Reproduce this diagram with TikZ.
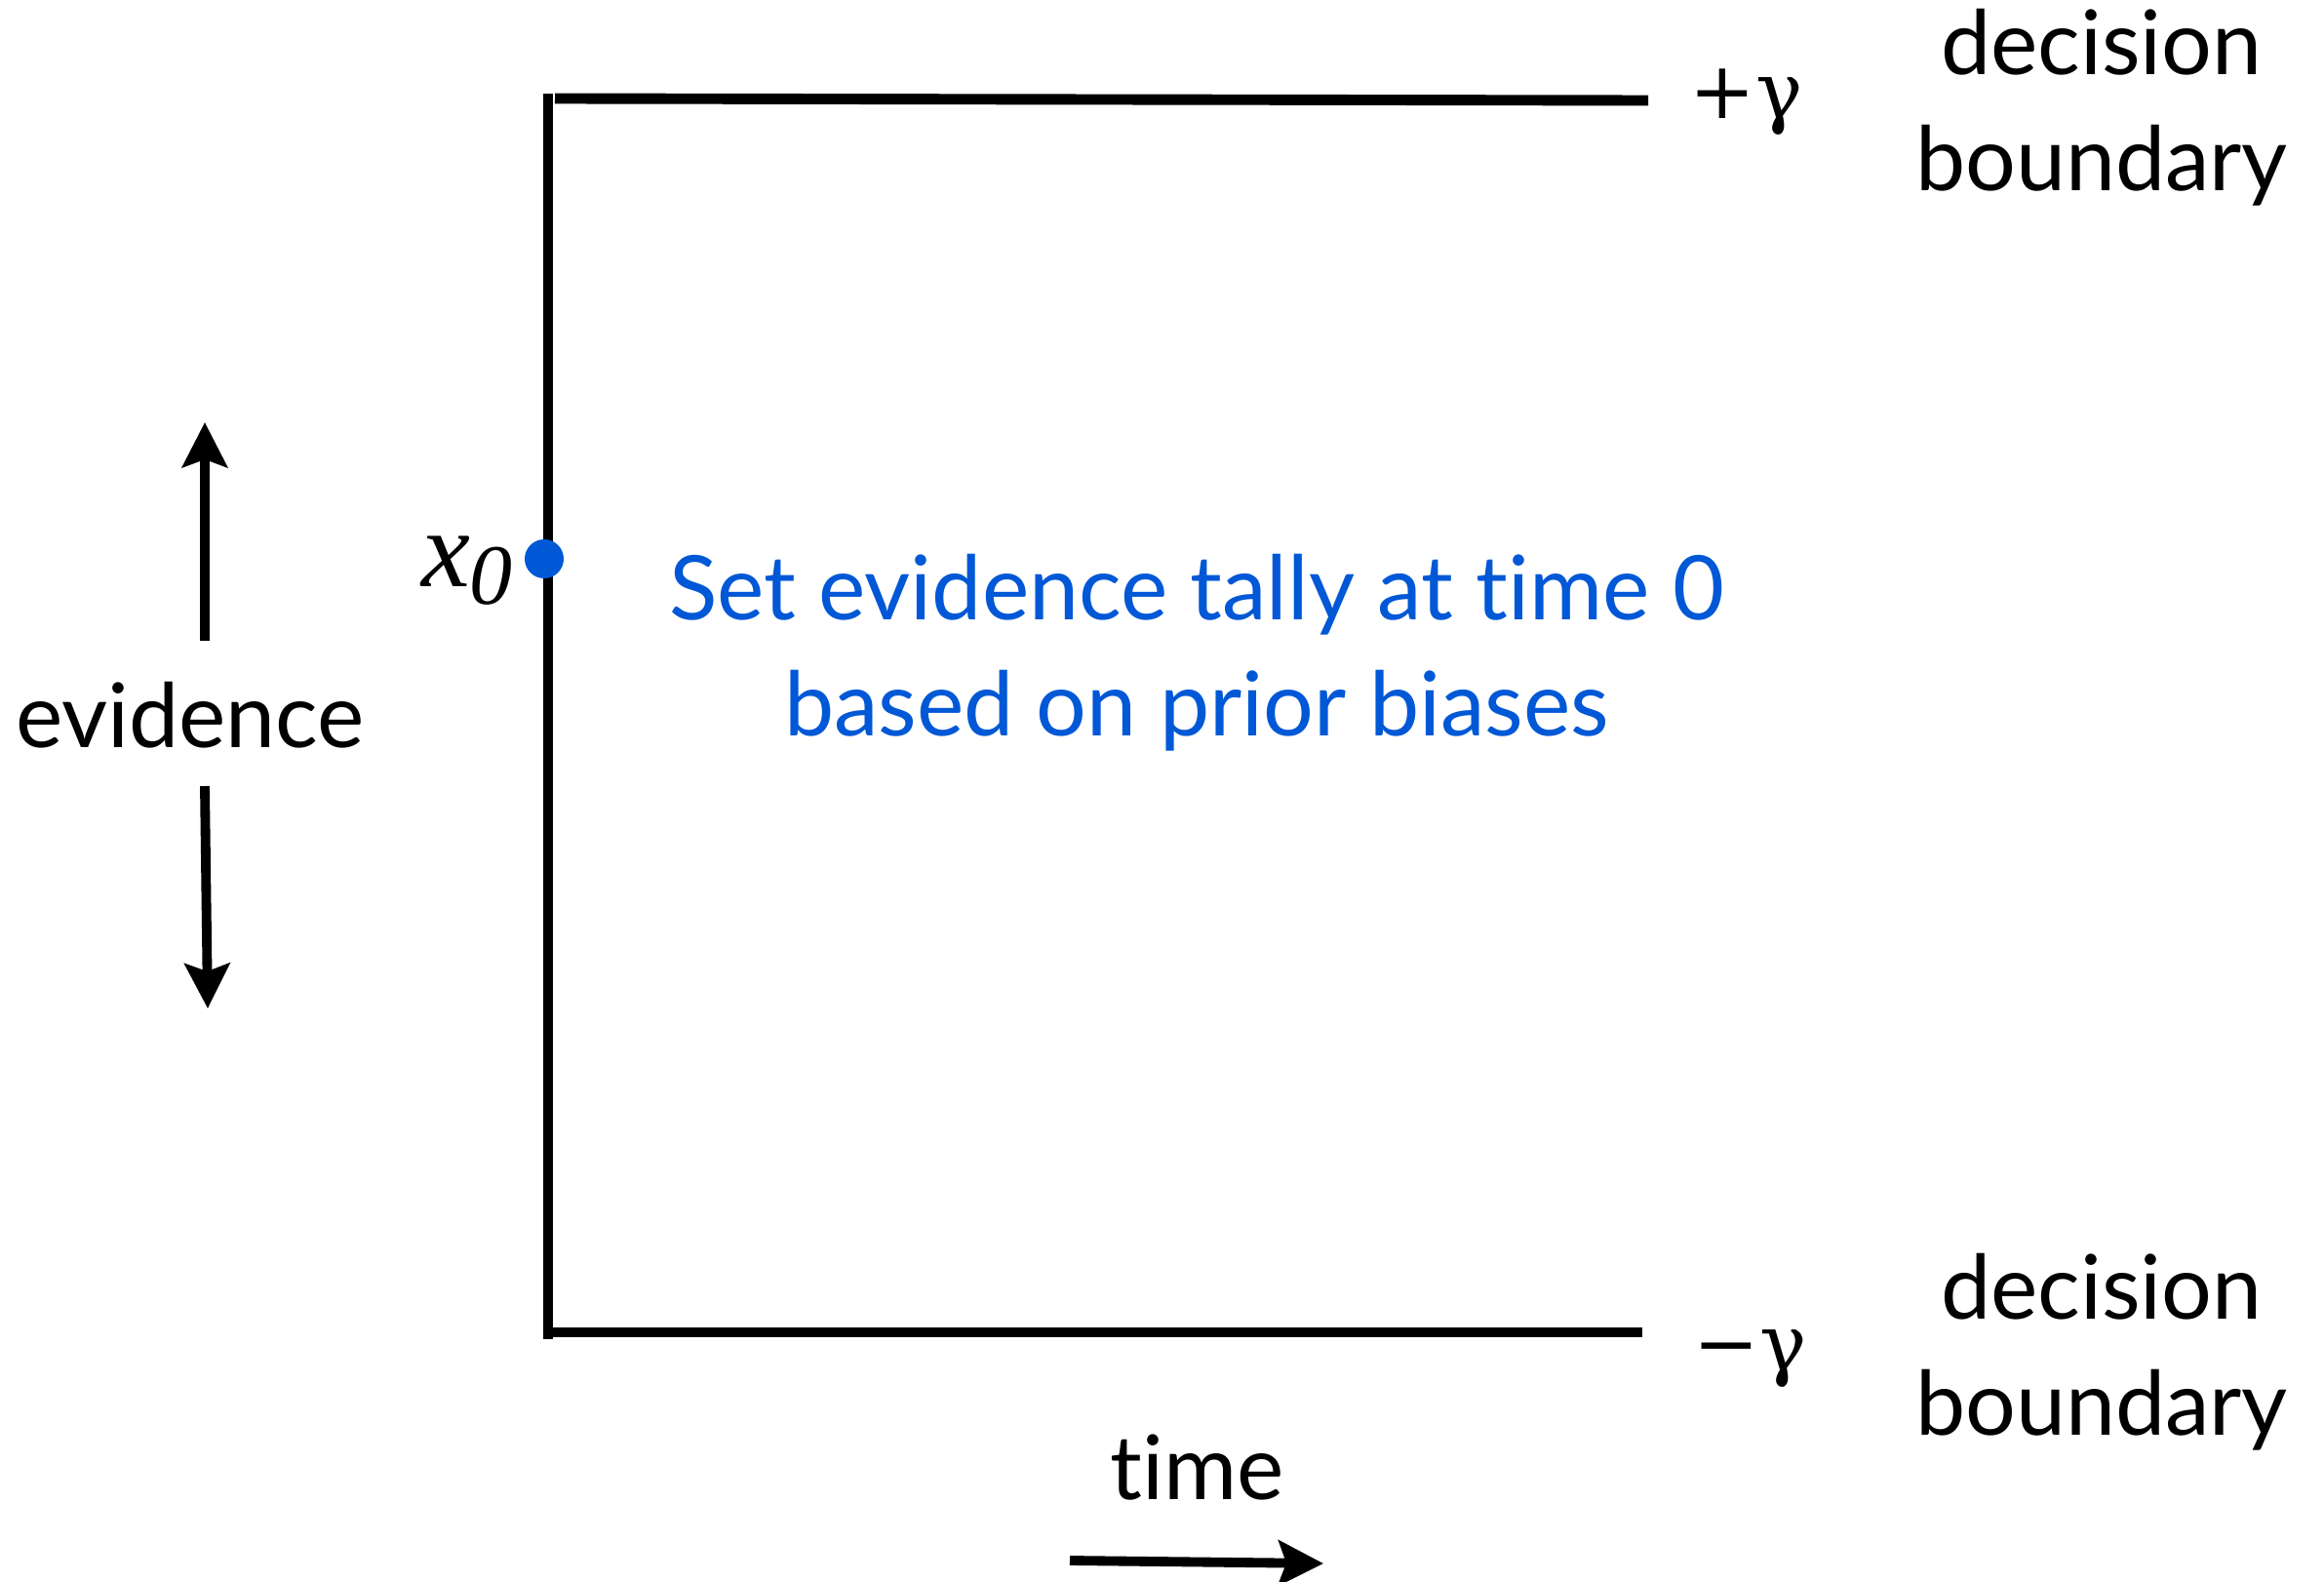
\documentclass[tikz,border=0pt]{standalone}
\usepackage{fontspec}
\setmainfont{Lato}[Ligatures=NoCommon]
\newfontfamily\gammafont{DejaVu Serif}
\newfontfamily\mathlike{Liberation Serif}
\usetikzlibrary{arrows.meta}
\definecolor{tallyblue}{RGB}{0,88,214}

\begin{document}
\begin{tikzpicture}[
    font=\fontsize{26}{34}\selectfont,
    bound/.style={line width=3.1pt},
    arr/.style={line width=2.8pt, -{Stealth[length=4.6mm, width=4.6mm, inset=0.8mm]}},
    lab/.style={inner sep=0pt, align=center},
    gam/.style={inner sep=0pt, font=\fontsize{23}{30}\gammafont}
]
    \path[use as bounding box] (0,0) rectangle (23.83,16.21);

    % walls of the process
    \coordinate (top0) at (5.62,15.25);
    \coordinate (bot0) at (5.62,2.48);
    \coordinate (upL) at (5.69,15.20);
    \coordinate (upR) at (16.90,15.18);
    \coordinate (loL) at (5.67,2.55);
    \coordinate (loR) at (16.84,2.55);
    \draw[bound] (top0) -- (bot0);
    \draw[bound] (upL) -- (upR);
    \draw[bound] (loL) -- (loR);

    \node[gam, anchor=west] (plus) at (17.32,15.16) {+γ};
    \node[gam, anchor=west] (minus) at (17.36,2.28) {−γ};
    \node[lab] (dbtop) at (21.55,15.11) {decision\\boundary};
    \node[lab] (dbbot) at (21.55,2.35) {decision\\boundary};

    % starting point
    \fill[tallyblue] (5.58,10.48) circle (0.2);
    \node[inner sep=0pt, font=\fontsize{32}{32}\mathlike\itshape] (xzero) at (4.79,10.36)
        {x\raisebox{-0.35ex}{\fontsize{25}{25}\selectfont 0}};
    \node[lab, text=tallyblue] (note) at (12.27,9.52)
        {Set evidence tally at time 0\\based on prior biases};

    % axes hints
    \node[lab] (evid) at (1.95,8.88) {evidence};
    \coordinate (evU) at (2.10,9.64);
    \coordinate (evUt) at (2.10,11.88);
    \coordinate (evD) at (2.10,8.15);
    \coordinate (evDt) at (2.13,5.87);
    \draw[arr] (evU) -- (evUt);
    \draw[arr] (evD) -- (evDt);

    \node[lab] (time) at (12.28,1.16) {time};
    \coordinate (tmL) at (10.97,0.21);
    \coordinate (tmR) at (13.57,0.18);
    \draw[arr] (tmL) -- (tmR);
\end{tikzpicture}
\end{document}
